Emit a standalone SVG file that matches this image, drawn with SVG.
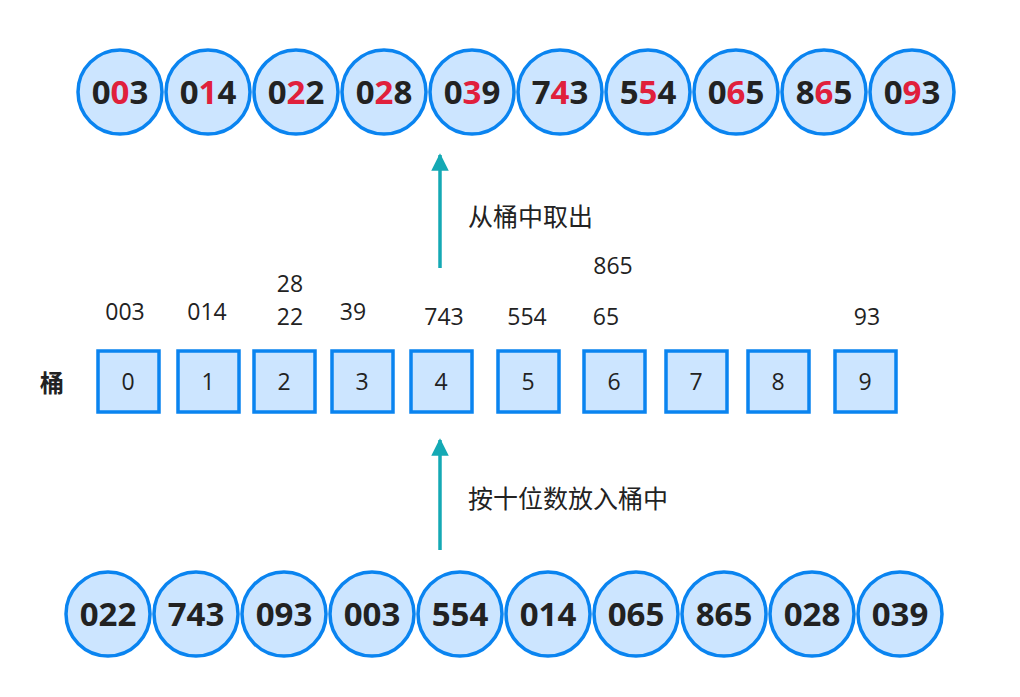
<svg xmlns="http://www.w3.org/2000/svg" width="1020" height="697" viewBox="0 0 1020 697">
<style>
.c{fill:#cce5ff;stroke:#0a84f0;stroke-width:3.5}
.b{fill:#cce5ff;stroke:#0a84f0;stroke-width:3.5}
.n{font-family:"Open Sans","Noto Sans CJK SC",sans-serif;font-weight:bold;font-size:33px;fill:#222;text-anchor:middle}
.r{fill:#e0203c}
.t{font-family:"Open Sans","Noto Sans CJK SC",sans-serif;font-size:23px;fill:#222;text-anchor:middle}
.l{font-family:"Open Sans","Noto Sans CJK SC",sans-serif;font-size:25px;fill:#222}
.a{stroke:#14a9b4;stroke-width:3.5;fill:none}
</style>
<defs><marker id="ah" viewBox="0 0 10 10" refX="9" refY="5" markerWidth="5" markerHeight="5" orient="auto"><path d="M0,0L10,5L0,10z" fill="#14a9b4"/></marker></defs>
<g id="top">
<g id="t0"><circle class="c" cx="120" cy="92" r="42"/><text class="n" x="120" y="104">0<tspan class="r">0</tspan>3</text></g>
<g id="t1"><circle class="c" cx="208" cy="92" r="42"/><text class="n" x="208" y="104">0<tspan class="r">1</tspan>4</text></g>
<g id="t2"><circle class="c" cx="296" cy="92" r="42"/><text class="n" x="296" y="104">0<tspan class="r">2</tspan>2</text></g>
<g id="t3"><circle class="c" cx="384" cy="92" r="42"/><text class="n" x="384" y="104">0<tspan class="r">2</tspan>8</text></g>
<g id="t4"><circle class="c" cx="472" cy="92" r="42"/><text class="n" x="472" y="104">0<tspan class="r">3</tspan>9</text></g>
<g id="t5"><circle class="c" cx="560" cy="92" r="42"/><text class="n" x="560" y="104">7<tspan class="r">4</tspan>3</text></g>
<g id="t6"><circle class="c" cx="648" cy="92" r="42"/><text class="n" x="648" y="104">5<tspan class="r">5</tspan>4</text></g>
<g id="t7"><circle class="c" cx="736" cy="92" r="42"/><text class="n" x="736" y="104">0<tspan class="r">6</tspan>5</text></g>
<g id="t8"><circle class="c" cx="824" cy="92" r="42"/><text class="n" x="824" y="104">8<tspan class="r">6</tspan>5</text></g>
<g id="t9"><circle class="c" cx="912" cy="92" r="42"/><text class="n" x="912" y="104">0<tspan class="r">9</tspan>3</text></g>
</g>
<g id="bottom">
<g id="s0"><circle class="c" cx="108" cy="614" r="42"/><text class="n" x="108" y="626">022</text></g>
<g id="s1"><circle class="c" cx="196" cy="614" r="42"/><text class="n" x="196" y="626">743</text></g>
<g id="s2"><circle class="c" cx="284" cy="614" r="42"/><text class="n" x="284" y="626">093</text></g>
<g id="s3"><circle class="c" cx="372" cy="614" r="42"/><text class="n" x="372" y="626">003</text></g>
<g id="s4"><circle class="c" cx="460" cy="614" r="42"/><text class="n" x="460" y="626">554</text></g>
<g id="s5"><circle class="c" cx="548" cy="614" r="42"/><text class="n" x="548" y="626">014</text></g>
<g id="s6"><circle class="c" cx="636" cy="614" r="42"/><text class="n" x="636" y="626">065</text></g>
<g id="s7"><circle class="c" cx="724" cy="614" r="42"/><text class="n" x="724" y="626">865</text></g>
<g id="s8"><circle class="c" cx="812" cy="614" r="42"/><text class="n" x="812" y="626">028</text></g>
<g id="s9"><circle class="c" cx="900" cy="614" r="42"/><text class="n" x="900" y="626">039</text></g>
</g>
<g id="buckets">
<text x="40" y="392" font-family="'Noto Sans CJK SC',sans-serif" font-weight="bold" font-size="24" fill="#222">桶</text>
<g id="b0"><rect class="b" x="98" y="351" width="61" height="61"/><text class="t" x="128" y="390">0</text></g>
<g id="b1"><rect class="b" x="178" y="351" width="61" height="61"/><text class="t" x="208" y="390">1</text></g>
<g id="b2"><rect class="b" x="254" y="351" width="61" height="61"/><text class="t" x="284" y="390">2</text></g>
<g id="b3"><rect class="b" x="332" y="351" width="61" height="61"/><text class="t" x="362" y="390">3</text></g>
<g id="b4"><rect class="b" x="411" y="351" width="61" height="61"/><text class="t" x="441" y="390">4</text></g>
<g id="b5"><rect class="b" x="498" y="351" width="61" height="61"/><text class="t" x="528" y="390">5</text></g>
<g id="b6"><rect class="b" x="584" y="351" width="61" height="61"/><text class="t" x="614" y="390">6</text></g>
<g id="b7"><rect class="b" x="666" y="351" width="61" height="61"/><text class="t" x="696" y="390">7</text></g>
<g id="b8"><rect class="b" x="748" y="351" width="61" height="61"/><text class="t" x="778" y="390">8</text></g>
<g id="b9"><rect class="b" x="835" y="351" width="61" height="61"/><text class="t" x="865" y="390">9</text></g>
<text class="t" x="125" y="320">003</text>
<text class="t" x="207" y="320">014</text>
<text class="t" x="290" y="292">28</text>
<text class="t" x="290" y="325">22</text>
<text class="t" x="353" y="320">39</text>
<text class="t" x="444" y="325">743</text>
<text class="t" x="527" y="325">554</text>
<text class="t" x="613" y="274">865</text>
<text class="t" x="606" y="325">65</text>
<text class="t" x="867" y="325">93</text>
</g>
<g id="connectors">
<line class="a" x1="440" y1="550" x2="440" y2="440" marker-end="url(#ah)"/>
<line class="a" x1="440" y1="268" x2="440" y2="155" marker-end="url(#ah)"/>
</g>
<text class="l" x="468" y="226">从桶中取出</text>
<text class="l" x="468" y="508">按十位数放入桶中</text>
</svg>
